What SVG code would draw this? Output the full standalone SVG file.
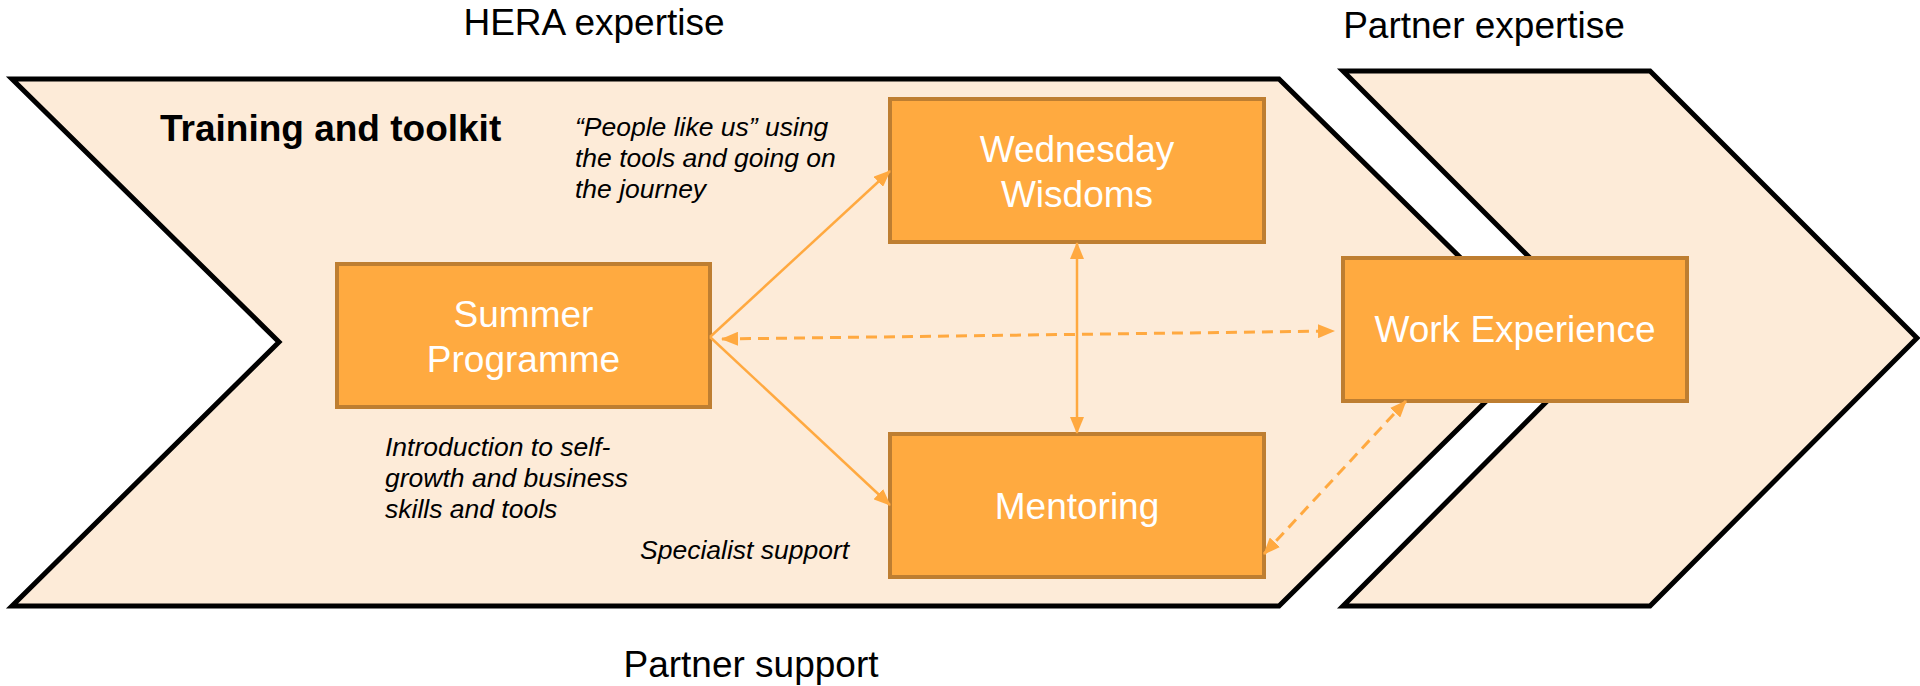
<svg xmlns="http://www.w3.org/2000/svg" width="1920" height="686" viewBox="0 0 1920 686">
<style>
.chev{fill:#FDEBD8;stroke:#000;stroke-width:5;stroke-linejoin:miter}
.box{fill:#FFAA40;stroke:#BE7E31;stroke-width:4}
.btxt{font-family:"Liberation Sans",Arial,sans-serif;font-size:37px;fill:#fff;text-anchor:middle}
.hdr{font-family:"Liberation Sans",Arial,sans-serif;font-size:37px;fill:#000}
.ital{font-family:"Liberation Sans",Arial,sans-serif;font-size:26.5px;font-style:italic;fill:#000}
.solid{stroke:#FFA940;stroke-width:2.5;fill:none}
.dash{stroke:#FFA940;stroke-width:3;fill:none;stroke-dasharray:11 7}
</style>
<defs>
<marker id="ah" markerUnits="userSpaceOnUse" markerWidth="17" markerHeight="14" refX="16" refY="7" orient="auto-start-reverse">
<path d="M0,0 L17,7 L0,14 z" fill="#FFA940"/>
</marker>
</defs>
<g id="chevrons">
<polygon class="chev" points="12,79 1279,79 1546,342 1279,606 12,606 279,342"/>
<polygon class="chev" points="1343,71 1650,71 1917,338 1650,606 1343,606 1610,338"/>
</g>
<g id="labels">
<text class="hdr" x="594" y="35" text-anchor="middle">HERA expertise</text>
<text class="hdr" x="1484" y="38" text-anchor="middle">Partner expertise</text>
<text class="hdr" x="751" y="677" text-anchor="middle">Partner support</text>
<text class="hdr" x="160" y="141" font-weight="bold">Training and toolkit</text>
<text class="ital" x="575"><tspan x="575" y="136">“People like us” using</tspan><tspan x="575" y="167">the tools and going on</tspan><tspan x="575" y="198">the journey</tspan></text>
<text class="ital" x="385"><tspan x="385" y="456">Introduction to self-</tspan><tspan x="385" y="487">growth and business</tspan><tspan x="385" y="518">skills and tools</tspan></text>
<text class="ital" x="640" y="559">Specialist support</text>
</g>
<g id="summer-programme">
<rect class="box" x="337" y="264" width="373" height="143"/>
<text class="btxt" x="523.5" y="327">Summer</text>
<text class="btxt" x="523.5" y="372">Programme</text>
</g>
<g id="wednesday-wisdoms">
<rect class="box" x="890" y="99" width="374" height="143"/>
<text class="btxt" x="1077" y="162">Wednesday</text>
<text class="btxt" x="1077" y="207">Wisdoms</text>
</g>
<g id="mentoring">
<rect class="box" x="890" y="434" width="374" height="143"/>
<text class="btxt" x="1077" y="519">Mentoring</text>
</g>
<g id="work-experience">
<rect class="box" x="1343" y="258" width="344" height="143"/>
<text class="btxt" x="1515" y="342">Work Experience</text>
</g>
<g id="connectors">
<line class="solid" x1="710" y1="337" x2="890" y2="171" marker-end="url(#ah)"/>
<line class="solid" x1="710" y1="337" x2="890" y2="505" marker-end="url(#ah)"/>
<line class="solid" x1="1077" y1="243" x2="1077" y2="433" marker-start="url(#ah)" marker-end="url(#ah)"/>
<line class="dash" x1="722" y1="339" x2="1334" y2="331" marker-start="url(#ah)" marker-end="url(#ah)"/>
<line class="dash" x1="1264" y1="554" x2="1406" y2="401" marker-start="url(#ah)" marker-end="url(#ah)"/>
</g>
</svg>
